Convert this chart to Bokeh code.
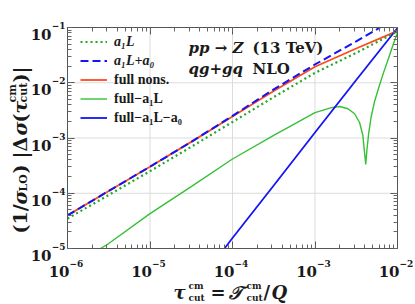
from bokeh.plotting import figure
from bokeh.models import Range1d, LogAxis, LogTicker, Label, Legend, LegendItem, CustomJSTickFormatter
from bokeh.embed import file_html
from bokeh.resources import INLINE
import math

# ---------------- data ----------------
tau = [1e-6, 3.16e-6, 1e-5, 3.16e-5, 1e-4, 3.16e-4, 1e-3, 3.16e-3, 1e-2]
a1L = [3.47e-5, 9.33e-5, 2.51e-4, 6.92e-4, 1.95e-3, 5.50e-3, 1.51e-2, 3.47e-2, 8.51e-2]
full_nons = [3.98e-5, 1.10e-4, 3.02e-4, 8.51e-4, 2.45e-3, 7.08e-3, 1.95e-2, 4.17e-2, 8.71e-2]

tau_d = [1e-6, 3.16e-6, 1e-5, 3.16e-5, 1e-4, 3.16e-4, 1e-3, 3.16e-3, 6.17e-3]
a1L_plus_a0 = [3.98e-5, 1.10e-4, 3.02e-4, 8.51e-4, 2.51e-3, 7.59e-3, 2.14e-2, 5.62e-2, 1.00e-1]

tau_g = [2.51e-6, 3.16e-6, 1e-5, 3.16e-5, 1e-4, 3.16e-4, 1e-3, 1.58e-3, 2.00e-3, 2.51e-3,
         3.02e-3, 3.47e-3, 3.80e-3, 3.98e-3, 4.12e-3, 4.27e-3, 4.47e-3, 4.79e-3, 5.25e-3,
         5.89e-3, 6.76e-3, 7.94e-3, 8.91e-3, 1e-2]
full_minus_a1L = [1.00e-5, 1.23e-5, 4.27e-5, 1.32e-4, 4.17e-4, 1.12e-3, 2.88e-3, 3.55e-3, 3.72e-3, 3.39e-3,
                  2.75e-3, 1.91e-3, 1.12e-3, 5.62e-4, 3.31e-4, 6.31e-4, 1.20e-3, 2.40e-3, 4.47e-3,
                  7.94e-3, 1.51e-2, 3.02e-2, 5.01e-2, 8.13e-2]

tau_b = [8.0e-5, 1e-4, 3.16e-4, 1e-3, 3.16e-3, 1e-2]
full_minus_a1L_a0 = [1.00e-5, 1.55e-5, 1.38e-4, 1.26e-3, 1.12e-2, 0.98e-1]

x_tick_exps = [-6, -5, -4, -3, -2]
y_tick_exps = [-5, -4, -3, -2, -1]
x_grid = [1e-5, 1e-4, 1e-3]
y_grid = [1e-4, 1e-3, 1e-2]

legend_labels = ["a₁L", "a₁L+a₀", "full nons.", "full−a₁L", "full−a₁L−a₀"]

# ---------------- style / layout ----------------
GREEN = "#35c035"
BLUE = "#1414f5"
RED = "#ff4a1c"
TXT = "#1a1a1a"
AX = "#555555"
SERIF = "DejaVu Serif"

W, H = 415, 304
FL, FR, FT, FB = 67, 397, 27, 248          # data box on the page
DX = (FR - FL) / 4.0                          # px per decade (x)
DY = (FB - FT) / 4.0                          # px per decade (y)
X0, X1 = 1e-6, 1e-2
Y0, Y1 = 1e-5, 1e-1

xr = Range1d(10 ** (-6 - FL / DX), 10 ** (-2 + (W - FR) / DX))
yr = Range1d(10 ** (-5 - (H - FB) / DY), 10 ** (-1 + FT / DY))

p = figure(width=W, height=H, x_axis_type="log", y_axis_type="log",
           x_range=xr, y_range=yr, x_axis_location=None, y_axis_location=None,
           output_backend="svg", toolbar_location=None, min_border=0)
p.background_fill_color = "white"
p.border_fill_color = "white"
p.outline_line_color = None
p.xgrid.visible = False
p.ygrid.visible = False


def make_axis(loc, bounds):
    ax = LogAxis(ticker=LogTicker(num_minor_ticks=10), fixed_location=loc, bounds=bounds)
    ax.axis_line_color = AX
    ax.major_tick_line_color = AX
    ax.minor_tick_line_color = "#666666"
    ax.major_tick_in = 7
    ax.major_tick_out = 0
    ax.minor_tick_in = 4
    ax.minor_tick_out = 0
    ax.formatter = CustomJSTickFormatter(code="return ''")
    ax.major_label_text_font_size = "1px"
    ax.major_label_standoff = 0
    return ax


# grid lines (major decades) inside the data box
p.segment(x0=x_grid, y0=[Y0] * len(x_grid), x1=x_grid, y1=[Y1] * len(x_grid),
          line_color="#dcdcdc", line_width=1)
p.segment(x0=[X0] * len(y_grid), y0=y_grid, x1=[X1] * len(y_grid), y1=y_grid,
          line_color="#dcdcdc", line_width=1)

# ---------------- curves ----------------
r_red = p.line(tau, full_nons, line_color=RED, line_width=1.8)
r_gs = p.line(tau_g, full_minus_a1L, line_color=GREEN, line_width=1.4)
r_bs = p.line(tau_b, full_minus_a1L_a0, line_color=BLUE, line_width=1.8)
r_gd = p.line(tau, a1L, line_color="#22a822", line_width=2.2, line_dash="2 3")
r_bd = p.line(tau_d, a1L_plus_a0, line_color=BLUE, line_width=2.0, line_dash="8 4")

p.add_layout(make_axis(Y0, (X0, X1)), "below")
p.add_layout(make_axis(Y1, (X0, X1)), "above")
p.add_layout(make_axis(X0, (Y0, Y1)), "left")
p.add_layout(make_axis(X1, (Y0, Y1)), "right")


# ---------------- texts ----------------
def put(px, py, s, size, style="bold", angle=0.0, align="left", font=SERIF):
    p.add_layout(Label(x=X0, y=Y0, x_offset=px - FL, y_offset=FB - py, text=s,
                       text_font=font, text_font_size=f"{size}px", text_font_style=style,
                       text_align=align, text_baseline="alphabetic", angle=angle,
                       text_color=TXT))


# tick labels
for e in x_tick_exps:
    p.add_layout(Label(x=10.0 ** e, y=Y0, x_offset=2, y_offset=-23, text="10",
                       text_font=SERIF, text_font_size="15px", text_font_style="bold",
                       text_align="right", text_baseline="alphabetic", text_color=TXT))
    p.add_layout(Label(x=10.0 ** e, y=Y0, x_offset=2, y_offset=-15, text=f"−{-e}",
                       text_font=SERIF, text_font_size="9px", text_font_style="bold",
                       text_align="left", text_baseline="alphabetic", text_color=TXT))
for e in y_tick_exps:
    p.add_layout(Label(x=X0, y=10.0 ** e, x_offset=-16, y_offset=-7, text="10",
                       text_font=SERIF, text_font_size="15px", text_font_style="bold",
                       text_align="right", text_baseline="alphabetic", text_color=TXT))
    p.add_layout(Label(x=X0, y=10.0 ** e, x_offset=-2, y_offset=2, text=f"−{-e}",
                       text_font=SERIF, text_font_size="9px", text_font_style="bold",
                       text_align="right", text_baseline="alphabetic", text_color=TXT))

# process annotation
put(188, 47, "pp → Z", 15, "bold italic")
put(252, 47, "(13 TeV)", 15, "bold")
put(188, 68, "qg+gq", 15, "bold italic")
put(252, 68, "NLO", 15, "bold")

# x-axis title
XB = 292
put(173, XB, "τ", 18, "bold italic")
put(188, XB - 7, "cm", 9)
put(188, XB + 5, "cut", 9)
put(210, XB, "=", 18)
put(228, XB, "𝒯", 18, "bold italic")
put(246, XB - 7, "cm", 9)
put(246, XB + 5, "cut", 9)
put(263, XB, "/", 18)
put(271, XB, "Q", 18, "bold italic")

# y-axis title (rotated, reading upward)
A = math.pi / 2
YB = 19
put(YB, 233, "(1/", 19, angle=A)
put(YB, 204, "σ", 19, "bold italic", angle=A)
put(YB + 4, 191, "LO", 11, angle=A)
put(YB, 173, ")", 19, angle=A)
put(YB, 158, "|", 19, angle=A)
put(YB, 151, "Δ", 19, angle=A)
put(YB, 135, "σ", 19, "bold italic", angle=A)
put(YB, 122, "(", 19, angle=A)
put(YB, 113, "τ", 19, "bold italic", angle=A)
put(YB - 7, 102, "cm", 11, angle=A)
put(YB + 4, 102, "cut", 11, angle=A)
put(YB, 82, ")", 19, angle=A)
put(YB, 73, "|", 19, angle=A)

# ---------------- legends ----------------
legA = Legend(items=[LegendItem(label=legend_labels[0], renderers=[r_gd]),
                     LegendItem(label=legend_labels[1], renderers=[r_bd])],
              location=(80, H - 70))
legB = Legend(items=[LegendItem(label=legend_labels[2], renderers=[r_red]),
                     LegendItem(label=legend_labels[3], renderers=[r_gs]),
                     LegendItem(label=legend_labels[4], renderers=[r_bs])],
              location=(80, H - 127))
for lg, st in ((legA, "bold italic"), (legB, "bold")):
    lg.margin = 0
    lg.padding = 0
    lg.label_text_font = "Liberation Serif"
    lg.label_text_font_style = st
    lg.label_text_font_size = "14px"
    lg.label_text_color = TXT
    lg.label_height = 19
    lg.glyph_height = 19
    lg.glyph_width = 27
    lg.label_standoff = 7
    lg.spacing = 0
    lg.background_fill_alpha = 0
    lg.border_line_alpha = 0
    p.add_layout(lg)

open("out.html", "w").write(file_html(p, INLINE))
